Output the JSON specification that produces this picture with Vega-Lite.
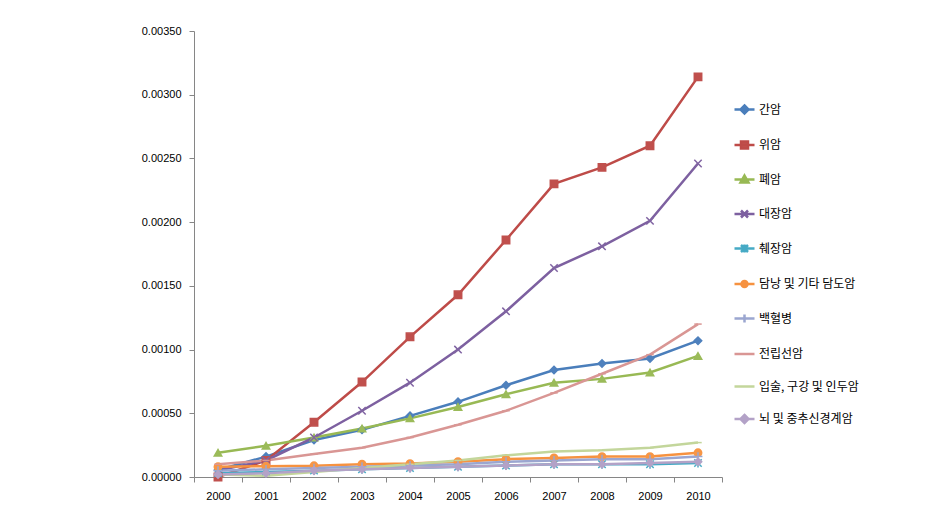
{
  "$schema": "https://vega.github.io/schema/vega-lite/v6.json",
  "autosize": {"type": "none"},
  "width": 528,
  "height": 446,
  "padding": {"left": 194, "top": 31, "right": 210, "bottom": 36},
  "background": "white",
  "config": {"view": {"stroke": null}, "font": "Liberation Sans"},
  "datasets": {
    "rates": [
      {"year": "2000", "type": "간암", "value": 0.000055},
      {"year": "2001", "type": "간암", "value": 0.00016},
      {"year": "2002", "type": "간암", "value": 0.00029},
      {"year": "2003", "type": "간암", "value": 0.00037},
      {"year": "2004", "type": "간암", "value": 0.00048},
      {"year": "2005", "type": "간암", "value": 0.00059},
      {"year": "2006", "type": "간암", "value": 0.00072},
      {"year": "2007", "type": "간암", "value": 0.00084},
      {"year": "2008", "type": "간암", "value": 0.00089},
      {"year": "2009", "type": "간암", "value": 0.00093},
      {"year": "2010", "type": "간암", "value": 0.00107},
      {"year": "2000", "type": "위암", "value": 0.0},
      {"year": "2001", "type": "위암", "value": 0.00013},
      {"year": "2002", "type": "위암", "value": 0.00043},
      {"year": "2003", "type": "위암", "value": 0.000745},
      {"year": "2004", "type": "위암", "value": 0.0011},
      {"year": "2005", "type": "위암", "value": 0.00143},
      {"year": "2006", "type": "위암", "value": 0.00186},
      {"year": "2007", "type": "위암", "value": 0.0023},
      {"year": "2008", "type": "위암", "value": 0.00243},
      {"year": "2009", "type": "위암", "value": 0.0026},
      {"year": "2010", "type": "위암", "value": 0.00314},
      {"year": "2000", "type": "폐암", "value": 0.00019},
      {"year": "2001", "type": "폐암", "value": 0.000245},
      {"year": "2002", "type": "폐암", "value": 0.00031},
      {"year": "2003", "type": "폐암", "value": 0.00038},
      {"year": "2004", "type": "폐암", "value": 0.00046},
      {"year": "2005", "type": "폐암", "value": 0.00055},
      {"year": "2006", "type": "폐암", "value": 0.00065},
      {"year": "2007", "type": "폐암", "value": 0.00074},
      {"year": "2008", "type": "폐암", "value": 0.00077},
      {"year": "2009", "type": "폐암", "value": 0.00082},
      {"year": "2010", "type": "폐암", "value": 0.00095},
      {"year": "2000", "type": "대장암", "value": 0.00005},
      {"year": "2001", "type": "대장암", "value": 0.00013},
      {"year": "2002", "type": "대장암", "value": 0.00031},
      {"year": "2003", "type": "대장암", "value": 0.00052},
      {"year": "2004", "type": "대장암", "value": 0.00074},
      {"year": "2005", "type": "대장암", "value": 0.001},
      {"year": "2006", "type": "대장암", "value": 0.0013},
      {"year": "2007", "type": "대장암", "value": 0.00164},
      {"year": "2008", "type": "대장암", "value": 0.00181},
      {"year": "2009", "type": "대장암", "value": 0.00201},
      {"year": "2010", "type": "대장암", "value": 0.00246},
      {"year": "2000", "type": "췌장암", "value": 0.00003},
      {"year": "2001", "type": "췌장암", "value": 0.00004},
      {"year": "2002", "type": "췌장암", "value": 0.00005},
      {"year": "2003", "type": "췌장암", "value": 0.00006},
      {"year": "2004", "type": "췌장암", "value": 0.00007},
      {"year": "2005", "type": "췌장암", "value": 0.00008},
      {"year": "2006", "type": "췌장암", "value": 0.00009},
      {"year": "2007", "type": "췌장암", "value": 0.0001},
      {"year": "2008", "type": "췌장암", "value": 0.0001},
      {"year": "2009", "type": "췌장암", "value": 0.0001},
      {"year": "2010", "type": "췌장암", "value": 0.00011},
      {"year": "2000", "type": "담낭 및 기타 담도암", "value": 0.00008},
      {"year": "2001", "type": "담낭 및 기타 담도암", "value": 0.000085},
      {"year": "2002", "type": "담낭 및 기타 담도암", "value": 0.000088},
      {"year": "2003", "type": "담낭 및 기타 담도암", "value": 0.0001},
      {"year": "2004", "type": "담낭 및 기타 담도암", "value": 0.000105},
      {"year": "2005", "type": "담낭 및 기타 담도암", "value": 0.00012},
      {"year": "2006", "type": "담낭 및 기타 담도암", "value": 0.00014},
      {"year": "2007", "type": "담낭 및 기타 담도암", "value": 0.00015},
      {"year": "2008", "type": "담낭 및 기타 담도암", "value": 0.00016},
      {"year": "2009", "type": "담낭 및 기타 담도암", "value": 0.00016},
      {"year": "2010", "type": "담낭 및 기타 담도암", "value": 0.00019},
      {"year": "2000", "type": "백혈병", "value": 0.00005},
      {"year": "2001", "type": "백혈병", "value": 0.00006},
      {"year": "2002", "type": "백혈병", "value": 0.00007},
      {"year": "2003", "type": "백혈병", "value": 0.00008},
      {"year": "2004", "type": "백혈병", "value": 0.00009},
      {"year": "2005", "type": "백혈병", "value": 0.0001},
      {"year": "2006", "type": "백혈병", "value": 0.00012},
      {"year": "2007", "type": "백혈병", "value": 0.00013},
      {"year": "2008", "type": "백혈병", "value": 0.00014},
      {"year": "2009", "type": "백혈병", "value": 0.00014},
      {"year": "2010", "type": "백혈병", "value": 0.00016},
      {"year": "2000", "type": "전립선암", "value": 0.0001},
      {"year": "2001", "type": "전립선암", "value": 0.00013},
      {"year": "2002", "type": "전립선암", "value": 0.00018},
      {"year": "2003", "type": "전립선암", "value": 0.00023},
      {"year": "2004", "type": "전립선암", "value": 0.00031},
      {"year": "2005", "type": "전립선암", "value": 0.00041},
      {"year": "2006", "type": "전립선암", "value": 0.00052},
      {"year": "2007", "type": "전립선암", "value": 0.00066},
      {"year": "2008", "type": "전립선암", "value": 0.00081},
      {"year": "2009", "type": "전립선암", "value": 0.00096},
      {"year": "2010", "type": "전립선암", "value": 0.0012},
      {"year": "2000", "type": "입술, 구강 및 인두암", "value": 0.00002},
      {"year": "2001", "type": "입술, 구강 및 인두암", "value": 0.00001},
      {"year": "2002", "type": "입술, 구강 및 인두암", "value": 0.00004},
      {"year": "2003", "type": "입술, 구강 및 인두암", "value": 0.00007},
      {"year": "2004", "type": "입술, 구강 및 인두암", "value": 0.0001},
      {"year": "2005", "type": "입술, 구강 및 인두암", "value": 0.00013},
      {"year": "2006", "type": "입술, 구강 및 인두암", "value": 0.00017},
      {"year": "2007", "type": "입술, 구강 및 인두암", "value": 0.0002},
      {"year": "2008", "type": "입술, 구강 및 인두암", "value": 0.00021},
      {"year": "2009", "type": "입술, 구강 및 인두암", "value": 0.00023},
      {"year": "2010", "type": "입술, 구강 및 인두암", "value": 0.00027},
      {"year": "2000", "type": "뇌 및 중추신경계암", "value": 0.00002},
      {"year": "2001", "type": "뇌 및 중추신경계암", "value": 0.00003},
      {"year": "2002", "type": "뇌 및 중추신경계암", "value": 0.00005},
      {"year": "2003", "type": "뇌 및 중추신경계암", "value": 0.00006},
      {"year": "2004", "type": "뇌 및 중추신경계암", "value": 0.00007},
      {"year": "2005", "type": "뇌 및 중추신경계암", "value": 0.00008},
      {"year": "2006", "type": "뇌 및 중추신경계암", "value": 0.00009},
      {"year": "2007", "type": "뇌 및 중추신경계암", "value": 0.0001},
      {"year": "2008", "type": "뇌 및 중추신경계암", "value": 0.0001},
      {"year": "2009", "type": "뇌 및 중추신경계암", "value": 0.00011},
      {"year": "2010", "type": "뇌 및 중추신경계암", "value": 0.00012}
    ]
  },
  "data": {"name": "rates"},
  "encoding": {
    "x": {
      "field": "year", "type": "ordinal", "bandPosition": 0.5,
      "scale": {"type": "band", "paddingInner": 0, "paddingOuter": 0},
      "axis": {
        "title": null, "labelAngle": 0, "tickBand": "extent",
        "domainColor": "#868686", "tickColor": "#868686", "tickSize": 5,
        "labelFontSize": 11, "labelColor": "#000000", "labelPadding": 8,
        "labelFont": "Liberation Sans"
      }
    },
    "y": {
      "field": "value", "type": "quantitative",
      "scale": {"domain": [0, 0.0035], "nice": false, "zero": true},
      "axis": {
        "title": null, "grid": false, "format": ".5f",
        "values": [0, 0.0005, 0.001, 0.0015, 0.002, 0.0025, 0.003, 0.0035],
        "domainColor": "#868686", "tickColor": "#868686", "tickSize": 5,
        "labelFontSize": 11, "labelColor": "#000000", "labelPadding": 8,
        "labelFont": "Liberation Sans"
      }
    }
  },
  "resolve": {"scale": {"color": "independent", "shape": "independent", "stroke": "independent"}},
  "layer": [
    {
      "mark": {"type": "line", "strokeWidth": 2.5},
      "encoding": {
        "color": {
          "field": "type", "type": "nominal", "legend": null,
          "scale": {
            "domain": ["간암", "위암", "폐암", "대장암", "췌장암", "담낭 및 기타 담도암", "백혈병", "전립선암", "입술, 구강 및 인두암", "뇌 및 중추신경계암"],
            "range": ["#4A7EBB", "#BE4B48", "#98B954", "#7D60A0", "#46AAC5", "#F69240", "#9BA6D0", "#D99694", "#C3D69B", "#B3A2C7"]
          }
        }
      }
    },
    {
      "mark": {"type": "point", "filled": true, "size": 55, "strokeWidth": 1.5, "opacity": 1},
      "encoding": {
        "color": {
          "field": "type", "type": "nominal", "legend": null,
          "scale": {
            "domain": ["간암", "위암", "폐암", "대장암", "췌장암", "담낭 및 기타 담도암", "백혈병", "전립선암", "입술, 구강 및 인두암", "뇌 및 중추신경계암"],
            "range": ["#4F81BD", "#C0504D", "#9BBB59", "#8064A2", "#4BACC6", "#F79646", "#9BA6D0", "#D99694", "#C3D69B", "#B3A2C7"]
          }
        },
        "stroke": {
          "field": "type", "type": "nominal", "legend": null,
          "scale": {
            "domain": ["간암", "위암", "폐암", "대장암", "췌장암", "담낭 및 기타 담도암", "백혈병", "전립선암", "입술, 구강 및 인두암", "뇌 및 중추신경계암"],
            "range": ["#4F81BD", "#C0504D", "#9BBB59", "#8064A2", "#4BACC6", "#F79646", "#9BA6D0", "#D99694", "#C3D69B", "#B3A2C7"]
          }
        },
        "shape": {
          "field": "type", "type": "nominal", "legend": null,
          "scale": {
            "domain": ["간암", "위암", "폐암", "대장암", "췌장암", "담낭 및 기타 담도암", "백혈병", "전립선암", "입술, 구강 및 인두암", "뇌 및 중추신경계암"],
            "range": ["diamond", "square", "triangle-up", "M-1,-1L1,1M-1,1L1,-1", "M-1,-1L1,1M-1,1L1,-1M0,-1.2V1.2", "circle", "M-1.2,0H1.2M0,-1.2V1.2", "M-1,0H1", "M-1,0H1", "diamond"]
          }
        }
      }
    },
    {
      "transform": [{"filter": "datum.value < 0"}],
      "mark": {"type": "point", "filled": true, "size": 400, "strokeWidth": 2.5, "opacity": 1},
      "encoding": {
        "color": {
          "field": "type", "type": "nominal",
          "scale": {
            "domain": ["간암", "위암", "폐암", "대장암", "췌장암", "담낭 및 기타 담도암", "백혈병", "전립선암", "입술, 구강 및 인두암", "뇌 및 중추신경계암"],
            "range": ["#4F81BD", "#C0504D", "#9BBB59", "#8064A2", "#4BACC6", "#F79646", "#9BA6D0", "#D99694", "#C3D69B", "#B3A2C7"]
          },
          "legend": {
            "title": null, "orient": "none", "legendX": 539, "legendY": 67,
            "symbolSize": 400, "rowPadding": 14.5, "labelFontSize": 12,
            "labelFont": "Noto Sans CJK KR", "labelColor": "#000000", "labelOffset": 3,
            "symbolStrokeWidth": 2.5
          }
        },
        "stroke": {
          "field": "type", "type": "nominal",
          "scale": {
            "domain": ["간암", "위암", "폐암", "대장암", "췌장암", "담낭 및 기타 담도암", "백혈병", "전립선암", "입술, 구강 및 인두암", "뇌 및 중추신경계암"],
            "range": ["#4A7EBB", "#BE4B48", "#98B954", "#7D60A0", "#46AAC5", "#F69240", "#9BA6D0", "#D99694", "#C3D69B", "#B3A2C7"]
          },
          "legend": {
            "title": null, "orient": "none", "legendX": 539, "legendY": 67,
            "symbolSize": 400, "rowPadding": 14.5, "labelFontSize": 12,
            "labelFont": "Noto Sans CJK KR", "labelColor": "#000000", "labelOffset": 3,
            "symbolStrokeWidth": 2.5
          }
        },
        "shape": {
          "field": "type", "type": "nominal",
          "scale": {
            "domain": ["간암", "위암", "폐암", "대장암", "췌장암", "담낭 및 기타 담도암", "백혈병", "전립선암", "입술, 구강 및 인두암", "뇌 및 중추신경계암"],
            "range": ["M-1,0H1M0,-0.4L0.4,0L0,0.4L-0.4,0Z", "M-1,0H1M-0.35,-0.35H0.35V0.35H-0.35Z", "M-1,0H1M0,-0.4L0.4,0.3H-0.4Z", "M-1,0H1M-0.35,-0.35L0.35,0.35M-0.35,0.35L0.35,-0.35", "M-1,0H1M-0.35,-0.35L0.35,0.35M-0.35,0.35L0.35,-0.35M0,-0.4V0.4", "M-1,0H1M0.3,0A0.3,0.3,0,1,1,-0.3,0A0.3,0.3,0,1,1,0.3,0Z", "M-1,0H1M0,-0.4V0.4", "M-1,0H1", "M-1,0H1", "M-1,0H1M0,-0.4L0.4,0L0,0.4L-0.4,0Z"]
          },
          "legend": {
            "title": null, "orient": "none", "legendX": 539, "legendY": 67,
            "symbolSize": 400, "rowPadding": 14.5, "labelFontSize": 12,
            "labelFont": "Noto Sans CJK KR", "labelColor": "#000000", "labelOffset": 3,
            "symbolStrokeWidth": 2.5
          }
        }
      }
    }
  ]
}
